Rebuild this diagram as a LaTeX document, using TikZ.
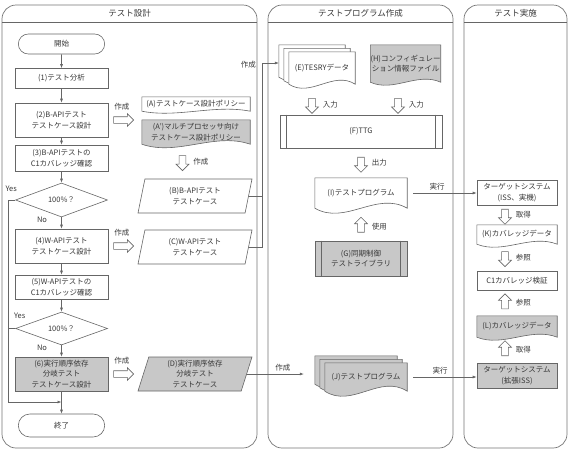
\documentclass[tikz,border=0pt]{standalone}
\usepackage{fontspec}
\setmainfont{Noto Sans CJK JP}
\usetikzlibrary{positioning,calc,shapes.geometric,shapes.misc,shapes.arrows,arrows.meta,backgrounds}
\definecolor{ink}{HTML}{383838}
\definecolor{edge}{HTML}{666666}
\definecolor{shade}{HTML}{C8C8C8}
\newcommand\docpath[4]{%
	\draw[wire,fill=#3] ($(#2.north west)+(#4)$) -- ($(#2.north east)+(#4)$) -- ($(#2.south east)+(#4)$)
		.. controls ($(#2.south east)!0.33!(#2.south west)+(#4)+(0pt,3.5*#1pt)$) and ($(#2.south east)!0.67!(#2.south west)+(#4)+(0pt,-3.5*#1pt)$)
		.. ($(#2.south west)+(#4)$) -- cycle;}
\begin{document}
\begin{tikzpicture}[x=1pt,y=-1pt,
	font=\fontsize{7.5}{10.5}\selectfont,text=ink,
	wire/.style={draw=edge,line width=0.6pt},
	flow/.style={wire,-{Latex[length=4pt,width=3pt]}},
	lane/.style={draw=edge!90,line width=0.7pt,rounded corners=14pt},
	lanetitle/.style={font=\fontsize{8.5}{10}\selectfont},
	proc/.style={wire,fill=white,minimum width=93pt,align=center,inner sep=1pt},
	term/.style={wire,rounded rectangle,minimum width=93pt,minimum height=20pt},
	decide/.style={wire,diamond,aspect=2.7,minimum width=92pt,minimum height=34pt,inner sep=0pt},
	data/.style={wire,fill=white,trapezium,trapezium left angle=70,trapezium right angle=110,trapezium stretches body,minimum width=114pt,minimum height=34pt,align=center,inner sep=1pt},
	doc/.style={align=center,inner sep=0pt},
	shaded/.style={fill=shade},
	fatright/.style={wire,fill=white,single arrow,minimum height=20pt,minimum width=12pt,single arrow head extend=3pt,inner sep=3pt},
	fatdown/.style={fatright,minimum height=15pt,minimum width=13pt,shape border rotate=270},
	fatup/.style={fatdown,shape border rotate=90},
	tag/.style={inner sep=1pt}]

	\useasboundingbox (0,0) rectangle (570,461);

	\draw[lane] (2,5) rectangle (257,448);
	\draw[lane] (268,5) rectangle (453,448);
	\draw[lane] (464,5) rectangle (567,448);
	\draw[wire] (2,22) -- (257,22);
	\draw[wire] (268,22) -- (453,22);
	\draw[wire] (464,22) -- (567,22);
	\node[lanetitle] (ttldesign) at (129.5,13.5) {テスト設計};
	\node[lanetitle] (ttlbuild) at (360.5,13.5) {テストプログラム作成};
	\node[lanetitle] (ttlrun) at (515.5,13.5) {テスト実施};

	\node[term] (start) at (61.5,44) {開始};
	\node[proc,minimum height=20pt] (s1) at (61.5,78.5) {(1)テスト分析};
	\node[proc,minimum height=34pt] (s2) at (61.5,120) {(2)B-APIテスト\\テストケース設計};
	\node[proc,minimum height=26pt] (s3) at (61.5,158) {(3)B-APIテストの\\C1カバレッジ確認};
	\node[decide] (q1) at (61.5,200) {100\%？};
	\node[proc,minimum height=34pt] (s4) at (61.5,246) {(4)W-APIテスト\\テストケース設計};
	\node[proc,minimum height=24pt] (s5) at (61.5,287) {(5)W-APIテストの\\C1カバレッジ確認};
	\node[decide,minimum height=33pt] (q2) at (61.5,328.5) {100\%？};
	\node[proc,shaded,minimum height=34pt] (s6) at (61.5,374) {(6)実行順序依存\\分岐テスト\\テストケース設計};
	\node[term,minimum height=23pt] (fin) at (61.5,425.5) {終了};

	\coordinate (yesbus) at (8,0);
	\coordinate (join) at (61.5,402);
	\draw[flow] (start) -- (s1);
	\draw[flow] (s1) -- (s2);
	\draw[flow] (s2) -- (s3);
	\draw[flow] (s3) -- (q1);
	\draw[flow] (q1) -- (s4);
	\draw[flow] (s4) -- (s5);
	\draw[flow] (s5) -- (q2);
	\draw[flow] (q2) -- (s6);
	\draw[flow] (s6) -- (fin);
	\draw[flow] (q1.west) -- (q1.west -| yesbus) -- (yesbus |- join) -- (join);
	\draw[wire] (q2.west) -- (q2.west -| yesbus);
	\node[tag] at ([shift={(-4pt,11pt)}]q1.west) {Yes};
	\node[tag] at ([shift={(4.5pt,12.5pt)}]q2.west) {Yes};
	\node[tag] at ([shift={(-19.5pt,-2.5pt)}]q1.south) {No};
	\node[tag] at ([shift={(-19.5pt,-2.5pt)}]q2.south) {No};

	\node[doc,minimum width=108pt,minimum height=14pt] (A) at (196,104) {(A)テストケース設計ポリシー};
	\node[doc,minimum width=108pt,minimum height=24pt] (Ap) at (196,132) {(A’)マルチプロセッサ向け\\テストケース設計ポリシー};
	\node[data] (B) at (195,196) {(B)B-APIテスト\\テストケース};
	\node[data] (C) at (195,247) {(C)W-APIテスト\\テストケース};
	\node[data,shaded] (D) at (195,374) {(D)実行順序依存\\分岐テスト\\テストケース};

	\node[fatright,right=5pt of s2] (m2) {};
	\node[tag,above=5pt of m2] {作成};
	\node[fatright,right=5pt of s4] (m4) {};
	\node[tag,above=5pt of m4] {作成};
	\node[fatright,right=5pt of s6] (m6) {};
	\node[tag,above=5pt of m6] {作成};
	\node[fatdown] (mab) at ($(Ap.south)!0.5!(B.north)+(-13pt,0pt)$) {};
	\node[tag,right=6pt of mab] {作成};

	\node[doc,minimum width=66pt,minimum height=32pt] (E) at (322,68) {(E)TESRYデータ};
	\node[doc,minimum width=69pt,minimum height=37pt] (H) at (405.5,63.5) {(H)コンフィギュレー\\ション情報ファイル};
	\node[proc,minimum width=162pt,minimum height=33pt] (F) at (361,131.5) {(F)TTG};
	\node[doc,minimum width=92pt,minimum height=30pt] (I) at (361,193) {(I)テストプログラム};
	\node[proc,shaded,minimum width=92pt,minimum height=35pt] (G) at (361,258.5) {(G)同期制御\\テストライブラリ};
	\node[doc,minimum width=82pt,minimum height=28pt] (J) at (366,377) {(J)テストプログラム};
	\draw[wire] ([xshift=7pt]F.north west) -- ([xshift=7pt]F.south west);
	\draw[wire] ([xshift=-7pt]F.north east) -- ([xshift=-7pt]F.south east);
	\draw[wire] ([xshift=7pt]G.north west) -- ([xshift=7pt]G.south west);
	\draw[wire] ([xshift=-7pt]G.north east) -- ([xshift=-7pt]G.south east);

	\node[fatdown] (mef) at ($(E.south |- F.north)+(-10pt,10.5pt)$) {};
	\node[tag,right=6pt of mef] {入力};
	\node[fatdown] (mhf) at ($(H.south |- F.north)+(-7.5pt,10.5pt)$) {};
	\node[tag,right=6pt of mhf] {入力};
	\node[fatdown] (mfi) at ($(F.south)!0.5!(I.north)$) {};
	\node[tag,right=6pt of mfi] {出力};
	\node[fatup] (mgi) at ($(G.north)!0.5!(I.south)+(0pt,-2pt)$) {};
	\node[tag,right=6pt of mgi] {使用};

	\node[proc,minimum width=80pt,minimum height=25pt] (T1) at (517,192.5) {ターゲットシステム\\(ISS、実機)};
	\node[doc,minimum width=80pt,minimum height=19pt] (K) at (517,234.5) {(K)カバレッジデータ};
	\node[proc,minimum width=80pt,minimum height=19pt] (V) at (517,280.5) {C1カバレッジ検証};
	\node[doc,minimum width=80pt,minimum height=21pt] (L) at (517,326.5) {(L)カバレッジデータ};
	\node[proc,shaded,minimum width=80pt,minimum height=25pt] (T2) at (517,375.5) {ターゲットシステム\\(拡張ISS)};

	\node[fatdown] (mtk) at ($(T1.south)!0.5!(K.north)+(-12pt,0pt)$) {};
	\node[tag,right=6pt of mtk] {取得};
	\node[fatdown] (mkv) at ($(K.south)!0.5!(V.north)+(-12pt,0pt)$) {};
	\node[tag,right=6pt of mkv] {参照};
	\node[fatup] (mlv) at ($(L.north)!0.5!(V.south)+(-12pt,0pt)$) {};
	\node[tag,right=6pt of mlv] {参照};
	\node[fatup] (mtl) at ($(T2.north)!0.5!(L.south)+(-12pt,0pt)$) {};
	\node[tag,right=6pt of mtl] {取得};

	\begin{pgfonlayer}{background}
		\docpath{2}{A}{white}{0pt,0pt}
		\docpath{3.5}{Ap}{shade}{0pt,0pt}
		\docpath{4}{E}{white}{-10pt,7pt}
		\docpath{4}{E}{white}{-5pt,3.5pt}
		\docpath{4}{E}{white}{0pt,0pt}
		\docpath{3}{H}{shade}{0pt,0pt}
		\docpath{5}{I}{white}{0pt,0pt}
		\docpath{5}{J}{shade}{-10pt,7pt}
		\docpath{5}{J}{shade}{-5pt,3.5pt}
		\docpath{5}{J}{shade}{0pt,0pt}
		\docpath{3}{K}{white}{0pt,0pt}
		\docpath{3}{L}{shade}{0pt,0pt}
	\end{pgfonlayer}

	\coordinate (bus) at (262,0);
	\coordinate (Ein) at ([shift={(-10pt,5pt)}]E.west);
	\coordinate (Jin) at ([xshift=-21pt]J.west);
	\draw[wire] (B.east) -- (B.east -| bus);
	\draw[flow] (C.east) -- (C.east -| bus) |- (Ein);
	\node[tag,anchor=east] at ($(bus |- Ein)+(-5pt,-2pt)$) {作成};
	\draw[flow] (D.east) -- (D.east -| Jin);
	\node[tag,anchor=south] at ($(D.east -| Jin)+(-21pt,2pt)$) {作成};
	\draw[flow] ([xshift=6pt]I.east) -- (I.east -| T1.west);
	\node[tag,anchor=south] at ([shift={(30pt,2pt)}]I.east) {実行};
	\draw[flow] ([xshift=6pt]J.east) -- (J.east -| T2.west);
	\node[tag,anchor=south] at ([shift={(33pt,2pt)}]J.east) {実行};
\end{tikzpicture}
\end{document}
